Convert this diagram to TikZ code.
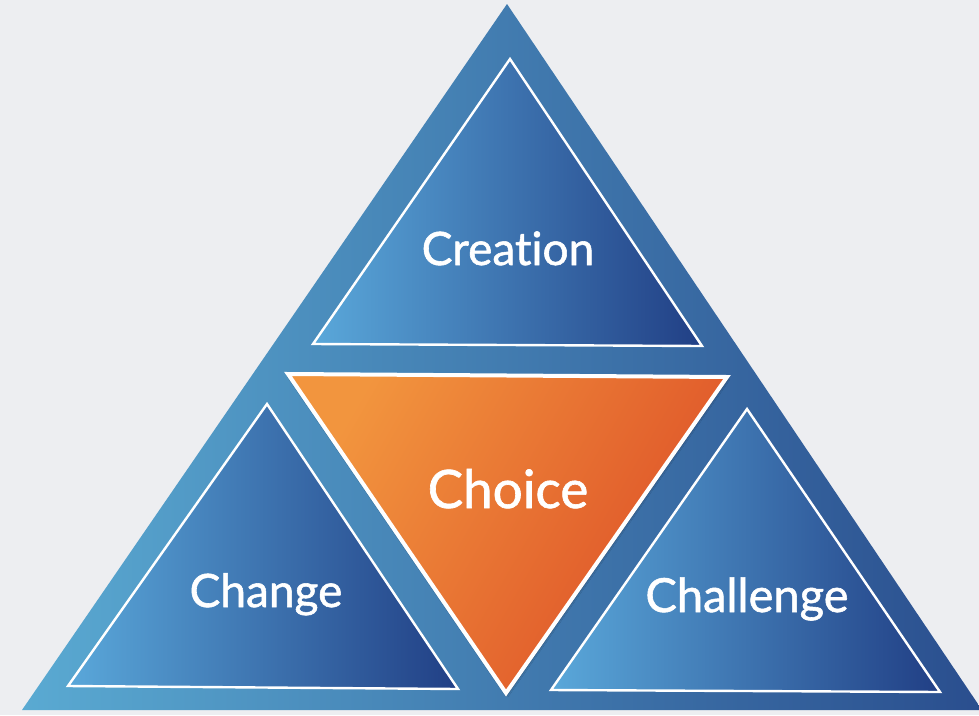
\documentclass[tikz,border=0pt]{standalone}
\usepackage{fontspec}
\setmainfont{Lato}[Ligatures=NoCommon]
\usetikzlibrary{shadows.blur}
\definecolor{paper}{HTML}{EDEEF1}
\definecolor{outL}{HTML}{5AAAD2}
\definecolor{outM}{HTML}{3F86AF}
\definecolor{outR}{HTML}{2A4E8E}
\definecolor{inL}{HTML}{5AA8DA}
\definecolor{inM}{HTML}{3A8FAE}
\definecolor{inR}{HTML}{213F85}
\definecolor{orL}{HTML}{F2953E}
\definecolor{orR}{HTML}{DD4F27}
\tikzset{
  innertri/.style={left color=inL, middle color=inM, right color=inR, draw=white, line width=2.4pt, line join=miter},
  label/.style={text=white, anchor=base, inner sep=0pt, font=\fontsize{46}{46}\selectfont\addfontfeature{FakeBold=1.2}}
}
\begin{document}
\begin{tikzpicture}[x=1pt,y=-1pt]
\useasboundingbox (0,0) rectangle (979,715);
\clip (0,0) rectangle (979,715);
\fill[paper] (0,0) rectangle (979,715);
% outer triangle
\shade[left color=outL, middle color=outM, right color=outR] (507,4) -- (982,710) -- (22,710) -- cycle;
% top triangle
\shade[innertri] (510,59) -- (702,346) -- (313,344) -- cycle;
% bottom-left
\shade[innertri] (267,404) -- (458,689) -- (68,686) -- cycle;
% bottom-right
\shade[innertri] (747,409) -- (940,692) -- (551,690) -- cycle;
% choice
\shade[left color=orL, right color=orR, shading angle=60, draw=white, line width=4pt, line join=miter, blur shadow={shadow blur steps=8, shadow xshift=1pt, shadow yshift=-2pt, shadow opacity=40}] (288,374) -- (727,377) -- (506,693) -- cycle;
\node[label] (creation) at (508,265) {Creation};
\node[label, font=\fontsize{53}{53}\selectfont\addfontfeature{FakeBold=1.2}] (choice) at (508,508) {Choice};
\node[label] (change) at (266,607) {Change};
\node[label, font=\fontsize{47}{47}\selectfont\addfontfeature{FakeBold=1.2}] (challenge) at (747,612) {Challenge};
\end{tikzpicture}
\end{document}
